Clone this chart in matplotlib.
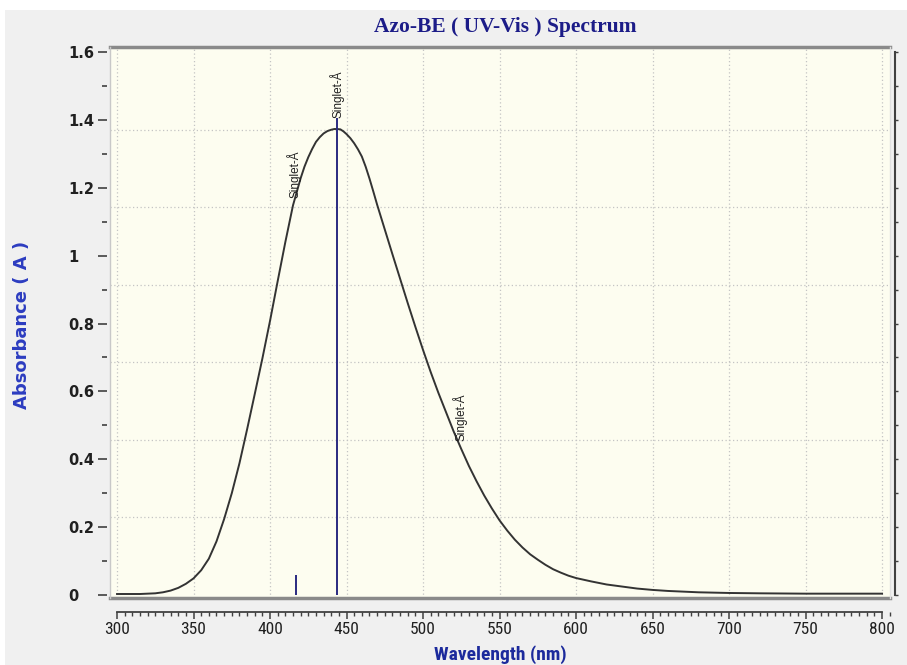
import matplotlib
matplotlib.use("Agg")
import matplotlib.pyplot as plt
from matplotlib import font_manager
from matplotlib.patches import Rectangle
from matplotlib.ticker import MultipleLocator

# spectrum
wavelength = [300, 305, 310, 315, 320, 325, 330, 335, 340, 345,
              350, 355, 360, 365, 370, 375, 380, 385, 390, 395,
              400, 405, 410, 415, 420, 422.5, 425, 427.5, 430, 432.5,
              435, 437.5, 440, 442, 444, 446, 448, 450, 452.5, 455,
              457.5, 460, 462.5, 465, 467.5, 470, 475, 480, 485, 490, 495,
              500, 505, 510, 515, 520, 525, 530, 535, 540, 545,
              550, 555, 560, 565, 570, 575, 580, 585, 590, 595,
              600, 610, 620, 630, 640, 650, 660, 670, 680, 690,
              700, 720, 750, 800]
absorbance = [0.003, 0.003, 0.003, 0.003, 0.004, 0.005, 0.008, 0.013, 0.021, 0.033,
              0.049, 0.073, 0.107, 0.158, 0.224, 0.300, 0.388, 0.488, 0.592, 0.697,
              0.808, 0.925, 1.040, 1.148, 1.228, 1.262, 1.290, 1.314, 1.335, 1.349,
              1.360, 1.367, 1.371, 1.373, 1.373, 1.372, 1.366, 1.358, 1.346, 1.331,
              1.313, 1.292, 1.262, 1.227, 1.189, 1.150, 1.077, 1.004, 0.932, 0.860, 0.790,
              0.722, 0.657, 0.596, 0.539, 0.482, 0.430, 0.380, 0.335, 0.293, 0.255,
              0.220, 0.190, 0.163, 0.140, 0.120, 0.104, 0.089, 0.076, 0.066, 0.057,
              0.050, 0.040, 0.031, 0.025, 0.019, 0.015, 0.012, 0.010, 0.008, 0.007,
              0.006, 0.005, 0.004, 0.004]

# transitions (sticks) and their labels
stick_nm = [417, 444]
stick_h = [0.06, 1.405]
label_nm = [416, 444, 524]
label_y = [1.17, 1.405, 0.455]
label_txt = ["Singlet-Å", "Singlet-Å", "Singlet-Å"]

x_ticks = [300, 350, 400, 450, 500, 550, 600, 650, 700, 750, 800]
y_ticks = [0, 0.2, 0.4, 0.6, 0.8, 1.0, 1.2, 1.4, 1.6]
y_tick_labels = ["0", "0.2", "0.4", "0.6", "0.8", "1", "1.2", "1.4", "1.6"]
grid_rows = [1.6 * k / 7 for k in range(1, 7)]


def pick(*names):
    have = {f.name for f in font_manager.fontManager.ttflist}
    for n in names:
        if n in have:
            return n
    return "DejaVu Sans"


narrow = pick("Roboto Condensed", "Liberation Sans Narrow", "DejaVu Sans Condensed")
serif = pick("DejaVu Serif Condensed", "Liberation Serif")

fig = plt.figure(figsize=(9.07, 6.65), dpi=100, facecolor="white")
fig.patches.append(Rectangle((5 / 907, 0), 1, 1 - 10 / 665, transform=fig.transFigure,
                             facecolor="#f0f0f0", edgecolor="none", zorder=-10))

ax = fig.add_axes([110 / 907, 1 - 598 / 665, 780 / 907, 551 / 665])
ax.set_facecolor("#fdfdf0")
ax.set_xlim(295.4, 805.2)
ax.set_ylim(-0.0088, 1.6147)

for x in x_ticks:
    ax.axvline(x, color="#c4c4c4", lw=0.9, ls=(0, (1, 2)), zorder=1)
for y in grid_rows:
    ax.axhline(y, color="#c4c4c4", lw=0.9, ls=(0, (1, 2)), zorder=1)

ax.plot(wavelength, absorbance, color="#333333", lw=1.4, zorder=3)
ax.vlines(stick_nm, 0, stick_h, color="#2a2a80", lw=1.4, zorder=4)
for x, y, t in zip(label_nm, label_y, label_txt):
    ax.text(x, y, t, rotation=90, ha="center", va="bottom", fontsize=8.5,
            family="Liberation Sans", color="#202020", zorder=5)

# frame of the plot area
ax.plot([0, 1], [1, 1], transform=ax.transAxes, color="#8a8a8a", lw=2.5, clip_on=False, zorder=6)
ax.plot([0, 1], [0, 0], transform=ax.transAxes, color="#8a8a8a", lw=2.5, clip_on=False, zorder=6)
ax.plot([0, 0], [0, 1], transform=ax.transAxes, color="#c8c8c8", lw=1, clip_on=False, zorder=6)
ax.plot([1, 1], [0, 1], transform=ax.transAxes, color="#e0e0e0", lw=1, clip_on=False, zorder=6)
ax.spines["top"].set_visible(False)
ax.spines["right"].set_visible(False)

# x axis drawn apart below the plot
ax.spines["bottom"].set_position(("outward", 10))
ax.spines["bottom"].set_bounds(300, 800)
ax.spines["bottom"].set_color("#404040")
ax.spines["bottom"].set_linewidth(1.3)
ax.set_xticks(x_ticks)
ax.xaxis.set_minor_locator(MultipleLocator(5))
ax.tick_params(axis="x", which="major", direction="out", length=5, width=1.1,
               color="#404040", pad=2, labelsize=12.5, labelcolor="#202020")
ax.tick_params(axis="x", which="minor", direction="out", length=3, width=1.0, color="#404040")
for lab in ax.get_xticklabels():
    lab.set_family(narrow)

# y axis: detached dashes with left-aligned labels
ax.spines["left"].set_position(("outward", 2.2))
ax.spines["left"].set_color("none")
ax.set_yticks(y_ticks)
ax.set_yticklabels(y_tick_labels)
ax.yaxis.set_minor_locator(MultipleLocator(0.1))
ax.tick_params(axis="y", which="major", direction="out", length=6.5, width=1.2,
               color="#404040", pad=21.6, labelsize=10.5, labelcolor="#202020")
ax.tick_params(axis="y", which="minor", direction="out", length=3.5, width=1.2, color="#404040")
for lab in ax.get_yticklabels():
    lab.set_ha("left")
    lab.set_fontweight("bold")

# right axis with small ticks
rx = ax.twinx()
rx.set_ylim(ax.get_ylim())
for s in ["top", "bottom", "left"]:
    rx.spines[s].set_visible(False)
rx.spines["right"].set_position(("outward", 3.6))
rx.spines["right"].set_bounds(0, 1.6)
rx.spines["right"].set_color("#404040")
rx.spines["right"].set_linewidth(1.5)
rx.yaxis.set_major_locator(MultipleLocator(0.1))
rx.tick_params(axis="y", direction="out", length=2.5, width=1.0, color="#404040", labelright=False)

fig.text(505 / 907, 1 - 27 / 665, "Azo-BE ( UV-Vis ) Spectrum", ha="center", va="center",
         fontsize=15.5, fontweight="bold", family=serif, color="#1c1c88")
fig.text(500 / 907, 1.5 / 665, "Wavelength (nm)", ha="center", va="bottom",
         fontsize=14, fontweight="bold", family=narrow, color="#1c2a9c")
fig.text(22 / 907, 1 - 325 / 665, "Absorbance ( A )", ha="center", va="center", rotation=90,
         fontsize=13, fontweight="bold", family="DejaVu Sans", color="#2c3cc0")

fig.savefig("out.png", dpi=100, facecolor=fig.get_facecolor())
